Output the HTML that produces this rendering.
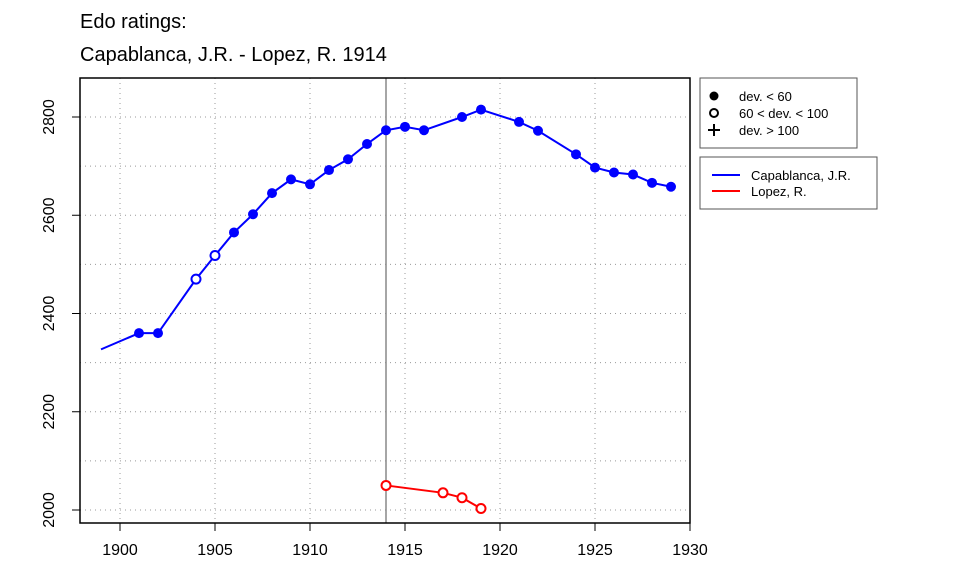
<!DOCTYPE html>
<html><head><meta charset="utf-8"><style>body{margin:0;background:#fff}svg{display:block;font-family:"Liberation Sans",sans-serif}</style></head>
<body>
<svg id="c" width="960" height="576">
<text x="80" y="28" font-size="20">Edo ratings:</text>
<text x="80" y="61" font-size="20">Capablanca, J.R. - Lopez, R. 1914</text>
<g id="grid"></g>
<g id="axes"></g>
<g id="series"></g>
<rect x="80" y="78" width="610" height="445" fill="none" stroke="#000" stroke-width="1.5"/>
<g>
<rect x="700" y="78" width="157" height="70" fill="#fff" stroke="#555"/>
<circle cx="714" cy="96" r="4.5" fill="#000"/><text x="739" y="101" font-size="13">dev. &lt; 60</text>
<circle cx="714" cy="113" r="4" fill="none" stroke="#000" stroke-width="2"/><text x="739" y="118" font-size="13">60 &lt; dev. &lt; 100</text>
<path d="M708 130h12M714 124v12" stroke="#000" stroke-width="2"/><text x="739" y="135" font-size="13">dev. &gt; 100</text>
</g>
<g>
<rect x="700" y="157" width="177" height="52" fill="#fff" stroke="#555"/>
<line x1="712" y1="175" x2="740" y2="175" stroke="#00f" stroke-width="2"/><text x="751" y="180" font-size="13">Capablanca, J.R.</text>
<line x1="712" y1="191" x2="740" y2="191" stroke="#f00" stroke-width="2"/><text x="751" y="196" font-size="13">Lopez, R.</text>
</g>
</svg>
<script>
const capYears=[1899,1901,1902,1904,1905,1906,1907,1908,1909,1910,1911,1912,1913,1914,1915,1916,1918,1919,1921,1922,1924,1925,1926,1927,1928,1929];
const capRatings=[2327,2360,2360,2470,2518,2565,2602,2645,2673,2663,2692,2714,2745,2773,2780,2773,2800,2815,2790,2772,2724,2697,2687,2683,2666,2658];
const capMarkers=['none','filled','filled','open','open','filled','filled','filled','filled','filled','filled','filled','filled','filled','filled','filled','filled','filled','filled','filled','filled','filled','filled','filled','filled','filled'];
const lopYears=[1914,1917,1918,1919];
const lopRatings=[2050,2035,2025,2003];
const lopMarkers=['open','open','open','open'];
const xTicks=[1900,1905,1910,1915,1920,1925,1930];
const yTicks=[2000,2200,2400,2600,2800];
const eventYear=1914;
const NS="http://www.w3.org/2000/svg";
const X=v=>120+(v-1900)*19;
const Y=v=>510-(v-2000)*(393/800);
function mk(tag,attrs,parent){const e=document.createElementNS(NS,tag);for(const k in attrs)e.setAttribute(k,attrs[k]);parent.appendChild(e);return e;}
const grid=document.getElementById('grid'),axes=document.getElementById('axes'),ser=document.getElementById('series');
for(const t of xTicks){
 const g=mk('line',{x1:X(t),x2:X(t),y1:78,y2:523,stroke:'#999','stroke-dasharray':'1 4'},grid);
 
 
 const tk=mk('line',{x1:X(t),x2:X(t),y1:523,y2:531,stroke:'#000'},axes);
 
 
 const l=mk('text',{x:X(t),y:555,'font-size':16,'text-anchor':'middle'},axes);l.textContent=t;
 
 
}
for(let v=2000;v<=2800;v+=100){
 const g=mk('line',{x1:80,x2:690,y1:Y(v),y2:Y(v),stroke:'#999','stroke-dasharray':'1 4'},grid);
 
 
}
for(const t of yTicks){
 const tk=mk('line',{x1:72,x2:80,y1:Y(t),y2:Y(t),stroke:'#000'},axes);
 
 
 const l=mk('text',{x:0,y:0,'font-size':16,'text-anchor':'middle',transform:`translate(54,${Y(t)}) rotate(-90)`},axes);l.textContent=t;
 
 
}
const ev=mk('line',{x1:X(eventYear),x2:X(eventYear),y1:78,y2:523,stroke:'#888','stroke-width':1.5},ser);


function series(ys,rs,ms,col,name){
 const p=mk('polyline',{points:ys.map((y,i)=>X(y)+','+Y(rs[i])).join(' '),fill:'none',stroke:col,'stroke-width':2},ser);
 
 
 ys.forEach((y,i)=>{
  if(ms[i]==='none')return;
  const c=ms[i]==='filled'?mk('circle',{cx:X(y),cy:Y(rs[i]),r:5,fill:col},ser):mk('circle',{cx:X(y),cy:Y(rs[i]),r:4.5,fill:'#fff',stroke:col,'stroke-width':2},ser);
  
  
 });
}
series(capYears,capRatings,capMarkers,'#00f','capablanca');
series(lopYears,lopRatings,lopMarkers,'#f00','lopez');
</script>
</body></html>
